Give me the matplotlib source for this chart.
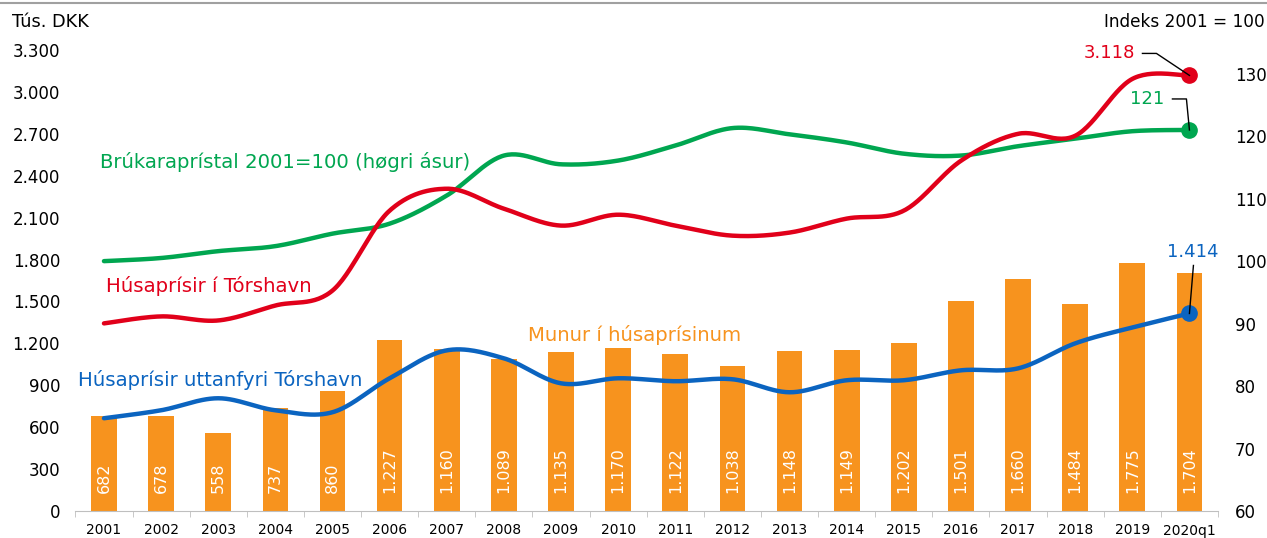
#!/usr/bin/env python3

import numpy as np
import matplotlib
matplotlib.use("Agg")
import matplotlib.pyplot as plt
from matplotlib.transforms import IdentityTransform

# Data
years = ["2001", "2002", "2003", "2004", "2005", "2006", "2007", "2008", "2009", "2010",
         "2011", "2012", "2013", "2014", "2015", "2016", "2017", "2018", "2019", "2020q1"]
munur = [682, 678, 558, 737, 860, 1227, 1160, 1089, 1135, 1170,
         1122, 1038, 1148, 1149, 1202, 1501, 1660, 1484, 1775, 1704]
torshavn = [1343, 1393, 1364, 1471, 1578, 2150, 2307, 2164, 2043, 2121,
            2043, 1971, 1993, 2093, 2150, 2507, 2700, 2686, 3093, 3118]
uttanfyri = [664, 721, 807, 721, 707, 950, 1150, 1093, 914, 950,
             929, 943, 850, 936, 936, 1007, 1021, 1200, 1314, 1414]
prisindex = [100.0, 100.5, 101.6, 102.4, 104.4, 106.0, 110.5, 116.9, 115.5, 116.1,
             118.5, 121.3, 120.3, 119.0, 117.2, 116.9, 118.4, 119.6, 120.8, 121.0]

ORANGE = "#F7931E"
RED = "#E1001A"
GREEN = "#00A650"
BLUE = "#0B64C0"
W, H = 1267, 538


def smooth(xs, ys, n=30):
    # Excel-style smoothed line: cubic Bezier segments with Catmull-Rom controls
    p = np.column_stack([xs, ys]).astype(float)
    pts = []
    for i in range(len(p) - 1):
        p0 = p[i - 1] if i > 0 else p[i]
        p1, p2 = p[i], p[i + 1]
        p3 = p[i + 2] if i + 2 < len(p) else p[i + 1]
        c1 = p1 + (p2 - p0) / 6.0
        c2 = p2 - (p3 - p1) / 6.0
        t = np.linspace(0, 1, n)[:, None]
        seg = ((1 - t) ** 3) * p1 + 3 * ((1 - t) ** 2) * t * c1 + 3 * (1 - t) * t ** 2 * c2 + t ** 3 * p2
        pts.append(seg if i == 0 else seg[1:])
    pts = np.vstack(pts)
    return pts[:, 0], pts[:, 1]


fig = plt.figure(figsize=(W / 100, H / 100), dpi=100)
ax = fig.add_axes([75.4 / W, 1 - 511 / H, (1218 - 75.4) / W, 461 / H])
ax2 = ax.twinx()
ax.set_zorder(ax2.get_zorder() + 1)
ax.patch.set_visible(False)

x = np.arange(len(years))
ax.bar(x, munur, width=0.45, color=ORANGE, zorder=2)
for xi, v in zip(x, munur):
    lab = f"{v:,}".replace(",", ".")
    ax.text(xi, 130, lab, rotation=90, ha="center", va="bottom",
            color="white", fontsize=11.5, zorder=3)

sx, sy = smooth(x, torshavn)
ax.plot(sx, sy, color=RED, lw=3.2, solid_capstyle="round", zorder=4)
sx, sy = smooth(x, uttanfyri)
ax.plot(sx, sy, color=BLUE, lw=3.2, solid_capstyle="round", zorder=4)
ax.plot(x[-1], torshavn[-1], "o", color=RED, ms=11, zorder=5)
ax.plot(x[-1], uttanfyri[-1], "o", color=BLUE, ms=11, zorder=5)

sx, sy = smooth(x, prisindex)
ax2.plot(sx, sy, color=GREEN, lw=3.2, solid_capstyle="round")
ax2.plot(x[-1], prisindex[-1], "o", color=GREEN, ms=11)

ax.set_xlim(-0.5, len(years) - 0.5)
ax.set_ylim(0, 3300)
ax2.set_ylim(60, 133.8)
ax.set_yticks(np.arange(0, 3301, 300))
ax.set_yticklabels([f"{v:,}".replace(",", ".") for v in range(0, 3301, 300)])
ax2.set_yticks(np.arange(60, 131, 10))
ax.set_xticks(x)
ax.set_xticklabels(years)
ax.set_xticks(np.arange(-0.5, len(years), 1), minor=True)

for a in (ax, ax2):
    for s in a.spines.values():
        s.set_visible(False)
ax.spines["bottom"].set_visible(True)
ax.spines["bottom"].set_color("#BFBFBF")
ax.tick_params(axis="x", which="major", length=0, pad=9, labelsize=10)
ax.tick_params(axis="x", which="minor", length=4, color="#BFBFBF", direction="out")
ax.tick_params(axis="y", length=0, pad=11, labelsize=12)
ax2.tick_params(axis="y", length=0, pad=12, labelsize=12)

# series labels
fig.text(100 / W, 1 - 162 / H, "Brúkarapríst al 2001=100 (høgri ásur)".replace("st al", "stal"),
         color=GREEN, fontsize=14.2, va="center")
fig.text(106 / W, 1 - 286 / H, "Húsaprísir í Tórshavn", color=RED, fontsize=14.2, va="center")
fig.text(528 / W, 1 - 335 / H, "Munur í húsaprísinum", color=ORANGE, fontsize=14.2, va="center")
fig.text(78 / W, 1 - 380 / H, "Húsaprísir uttanfyri Tórshavn", color=BLUE, fontsize=14.2, va="center")
fig.text(12 / W, 1 - 22 / H, "Tús. DKK", fontsize=12.8, va="center")
fig.text(1265 / W, 1 - 22 / H, "Indeks 2001 = 100", fontsize=12.2, va="center", ha="right")

# top border line
fig.add_artist(plt.Line2D([0, 1], [1 - 3 / H, 1 - 3 / H], transform=fig.transFigure,
                          color="#A0A0A0", lw=1.5))


def callout(a, xv, yv, text, color, path, txt_off, ha):
    # path / txt_off are pixel offsets (dx, dy down) from the data point
    px, py = a.transData.transform((xv, yv))
    xs = [px + dx for dx, dy in path] + [px]
    ys = [py - dy for dx, dy in path] + [py]
    a.add_line(plt.Line2D(xs, ys, transform=IdentityTransform(), color="black", lw=1, zorder=6))
    fig.text((px + txt_off[0]) / W, (py - txt_off[1]) / H, text, color=color,
             fontsize=13, ha=ha, va="center")


callout(ax, x[-1], torshavn[-1], "3.118", RED, [(-47, -22), (-33, -22)], (-54, -22), "right")
callout(ax2, x[-1], prisindex[-1], "121", GREEN, [(-17, -31), (-3, -31)], (-25, -31), "right")
callout(ax, x[-1], uttanfyri[-1], "1.414", BLUE, [(4, -48)], (3, -61), "center")

fig.savefig("out.png", dpi=100)
